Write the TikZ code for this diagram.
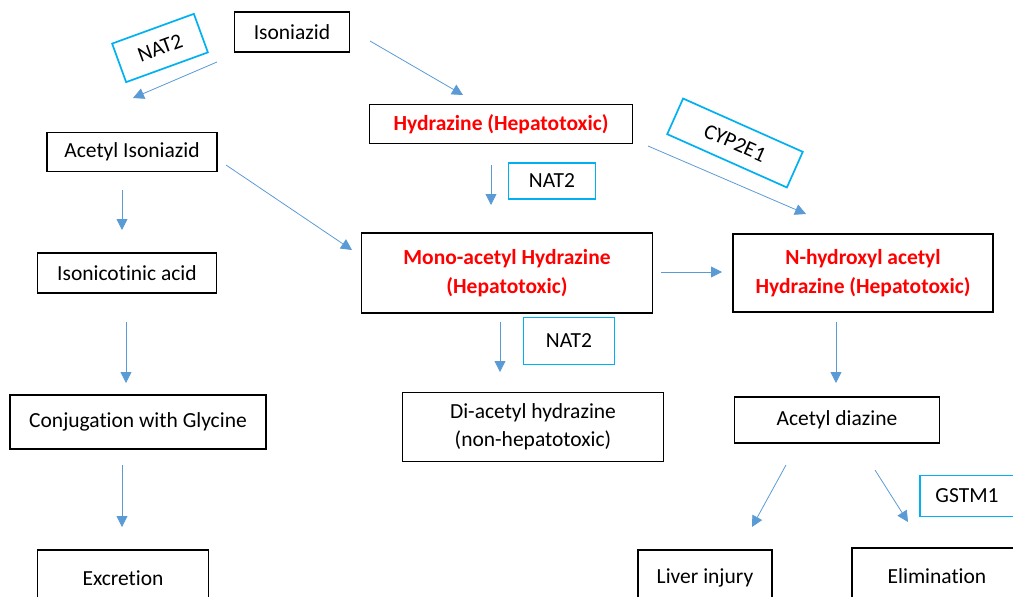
\documentclass[tikz,border=0pt]{standalone}
\usepackage{fontspec}
\setmainfont{Carlito}[Ligatures={NoCommon,NoContextual},RawFeature={-clig;-dlig;-calt}]
\usetikzlibrary{arrows.meta}
\definecolor{fleche}{HTML}{5B9BD5}
\definecolor{enzbord}{HTML}{00B0F0}
\newcommand{\taille}{\fontsize{21.5}{28.5}\selectfont}
\tikzset{
  boite/.style={draw=black,line width=1.7pt,align=center,inner sep=0pt,font=\taille},
  toxique/.style={boite,text=red,font=\taille\bfseries},
  enzyme/.style={draw=enzbord,line width=1.7pt,inner sep=0pt,font=\taille},
  lien/.style={draw=fleche,line width=0.8pt,-{Triangle[width=11pt,length=11pt]}},
}
\begin{document}
\begin{tikzpicture}[x=1pt,y=-1pt]
\useasboundingbox (0,0) rectangle (1013,597);
% Colonne de gauche
\node[boite,minimum width=115pt,minimum height=40pt] (iso) at (292,32) {Isoniazid};
\node[boite,minimum width=170pt,minimum height=39pt] (aciso) at (132,152) {Acetyl Isoniazid};
\node[boite,minimum width=179pt,minimum height=40pt] (isonic) at (127,273) {Isonicotinic acid};
\node[boite,minimum width=256pt,minimum height=54pt] (conj) at (138,422) {Conjugation with Glycine};
\node[boite,minimum width=171pt,minimum height=56pt] (excr) at (123,578) {Excretion};
% Colonne du milieu
\node[toxique,minimum width=263pt,minimum height=39pt] (hydr) at (501,124) {Hydrazine (Hepatotoxic)};
\node[toxique,minimum width=291pt,minimum height=80pt] (mono) at (507,273) {Mono-acetyl Hydrazine\\(Hepatotoxic)};
\node[boite,minimum width=261pt,minimum height=69pt] (diac) at (533,427) {Di-acetyl hydrazine\\(non-hepatotoxic)};
% Colonne de droite
\node[toxique,minimum width=260pt,minimum height=78pt] (nhyd) at (863,273) {N-hydroxyl acetyl\\Hydrazine (Hepatotoxic)};
\node[boite,minimum width=205pt,minimum height=46pt] (diaz) at (837,420) {Acetyl diazine};
\node[boite,minimum width=134pt,minimum height=56pt] (liver) at (705,578) {Liver injury};
\node[boite,minimum width=170pt,minimum height=56pt] (elim) at (937,576) {Elimination};
% Enzymes
\node[enzyme,rotate=20,minimum width=87pt,minimum height=41pt] (nat-a) at (160,48) {NAT2};
\node[enzyme,minimum width=87pt,minimum height=36pt] (nat-b) at (552,181) {NAT2};
\node[enzyme,rotate=-24,minimum width=131pt,minimum height=39pt] (cyp) at (735,143) {CYP2E1};
\node[enzyme,minimum width=91pt,minimum height=47pt] (nat-c) at (569,341) {NAT2};
\node[enzyme,minimum width=94pt,minimum height=41pt] (gstm) at (967,496) {GSTM1};
% Flèches : départ / arrivée
\foreach \i/\p/\q in {1/{217,62}/{133,98},2/{370,41}/{463,95},3/{648,146}/{806,214},
  4/{491,165}/{491,205},5/{122,190}/{122,230},6/{226,165}/{352,250},
  7/{661,272}/{722,272},8/{126,322}/{126,383},9/{500,322}/{500,372},
  10/{836,322}/{836,383},11/{122,465}/{122,527},12/{786,465}/{752,527},
  13/{875,470}/{908,522}}
{
  \coordinate (d\i) at (\p) ;
  \coordinate (f\i) at (\q) ;
  \draw[lien] (d\i) -- (f\i) ;
}
\end{tikzpicture}
\end{document}
